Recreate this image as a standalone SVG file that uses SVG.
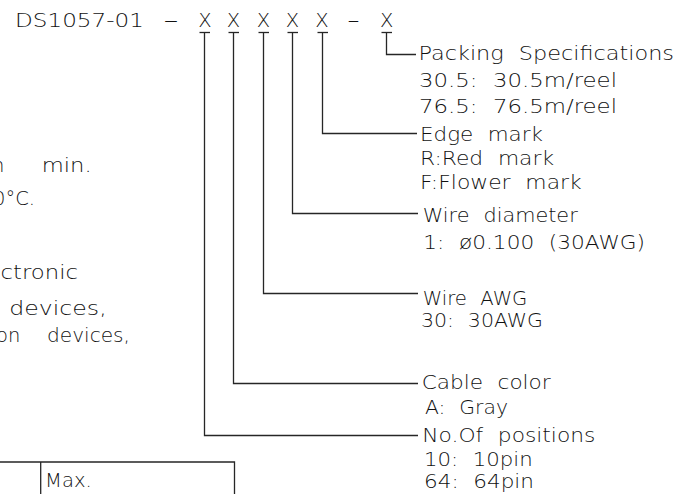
<svg xmlns="http://www.w3.org/2000/svg" width="686" height="494" viewBox="0 0 686 494">
  <style>
    .t { font-family: "DejaVu Sans", "Liberation Sans", sans-serif; font-size: 19.5px; font-weight: 200; fill: #111111; word-spacing: 7px; }
    .ln { fill: none; stroke: #262626; stroke-width: 1.3; }
  </style>
  <rect width="686" height="494" fill="#ffffff"/>

  <g id="code">
    <text class="t" x="15" y="27" textLength="129" lengthAdjust="spacingAndGlyphs">DS1057-01</text>
    <text class="t" x="163" y="27" textLength="16" lengthAdjust="spacingAndGlyphs">-</text>
    <text class="t" y="27" text-anchor="middle">
      <tspan x="205">X</tspan><tspan x="233.5">X</tspan><tspan x="263.5">X</tspan><tspan x="292.5">X</tspan><tspan x="322">X</tspan>
    </text>
    <text class="t" x="347" y="27" textLength="13" lengthAdjust="spacingAndGlyphs">-</text>
    <text class="t" x="386.7" y="27" text-anchor="middle">X</text>
    <g class="ln">
      <line x1="199.5" y1="32.5" x2="210" y2="32.5"/>
      <line x1="228.5" y1="32.5" x2="239" y2="32.5"/>
      <line x1="258.5" y1="32.5" x2="269" y2="32.5"/>
      <line x1="287.5" y1="32.5" x2="298" y2="32.5"/>
      <line x1="317.5" y1="32.5" x2="328" y2="32.5"/>
      <line x1="381.5" y1="32.5" x2="392" y2="32.5"/>
    </g>
  </g>

  <g id="connectors" class="ln">
    <polyline points="204.5,32.5 204.5,435.5 418,435.5"/>
    <polyline points="233.5,32.5 233.5,383.5 418,383.5"/>
    <polyline points="263.5,32.5 263.5,293.5 418,293.5"/>
    <polyline points="292.5,32.5 292.5,213.5 418,213.5"/>
    <polyline points="322.5,32.5 322.5,133.5 417,133.5"/>
    <polyline points="386.5,32.5 386.5,54.5 416,54.5"/>
  </g>

  <g id="packing">
    <text class="t" x="418.5" y="60" textLength="255.5" lengthAdjust="spacingAndGlyphs">Packing Specifications</text>
    <text class="t" x="419" y="86.7" textLength="198" lengthAdjust="spacingAndGlyphs">30.5: 30.5m/reel</text>
    <text class="t" x="419" y="113.3" textLength="198" lengthAdjust="spacingAndGlyphs">76.5: 76.5m/reel</text>
  </g>

  <g id="edge-mark">
    <text class="t" x="420" y="140.7" textLength="123" lengthAdjust="spacingAndGlyphs">Edge mark</text>
    <text class="t" x="420" y="165" textLength="134" lengthAdjust="spacingAndGlyphs">R:Red mark</text>
    <text class="t" x="420" y="189.3" textLength="161.7" lengthAdjust="spacingAndGlyphs">F:Flower mark</text>
  </g>

  <g id="wire-diameter">
    <text class="t" x="422.7" y="221.7" textLength="155" lengthAdjust="spacingAndGlyphs">Wire diameter</text>
    <text class="t" x="423.3" y="248.5" textLength="221.7" lengthAdjust="spacingAndGlyphs">1: ø0.100 (30AWG)</text>
  </g>

  <g id="wire-awg">
    <text class="t" x="422.7" y="305" textLength="104.7" lengthAdjust="spacingAndGlyphs">Wire AWG</text>
    <text class="t" x="421" y="326.7" textLength="122" lengthAdjust="spacingAndGlyphs">30: 30AWG</text>
  </g>

  <g id="cable-color">
    <text class="t" x="421.7" y="389.3" textLength="129" lengthAdjust="spacingAndGlyphs">Cable color</text>
    <text class="t" x="425" y="414" textLength="83" lengthAdjust="spacingAndGlyphs">A: Gray</text>
  </g>

  <g id="positions">
    <text class="t" x="422.3" y="441.7" textLength="173" lengthAdjust="spacingAndGlyphs">No.Of positions</text>
    <text class="t" x="424" y="465.7" textLength="108.7" lengthAdjust="spacingAndGlyphs">10: 10pin</text>
    <text class="t" x="424" y="488.3" textLength="110" lengthAdjust="spacingAndGlyphs">64: 64pin</text>
  </g>

  <g id="left-notes">
    <text class="t" y="171.7"><tspan x="-8">n</tspan><tspan x="41.7" textLength="50" lengthAdjust="spacingAndGlyphs">min.</tspan></text>
    <text class="t" x="-7" y="205" textLength="42" lengthAdjust="spacingAndGlyphs">0°C.</text>
    <text class="t" x="0.5" y="279.3" textLength="77.5" lengthAdjust="spacingAndGlyphs">ctronic</text>
    <text class="t" x="9.3" y="315" textLength="97.4" lengthAdjust="spacingAndGlyphs">devices,</text>
    <text class="t" y="342"><tspan x="-4">on</tspan><tspan x="47" textLength="83" lengthAdjust="spacingAndGlyphs">devices,</tspan></text>
  </g>

  <g id="table">
    <g class="ln">
      <polyline points="0,462 234.5,462 234.5,494"/>
      <line x1="40.7" y1="462" x2="40.7" y2="494"/>
    </g>
    <text class="t" x="45" y="486.7" textLength="46.7" lengthAdjust="spacingAndGlyphs">Max.</text>
  </g>
</svg>
